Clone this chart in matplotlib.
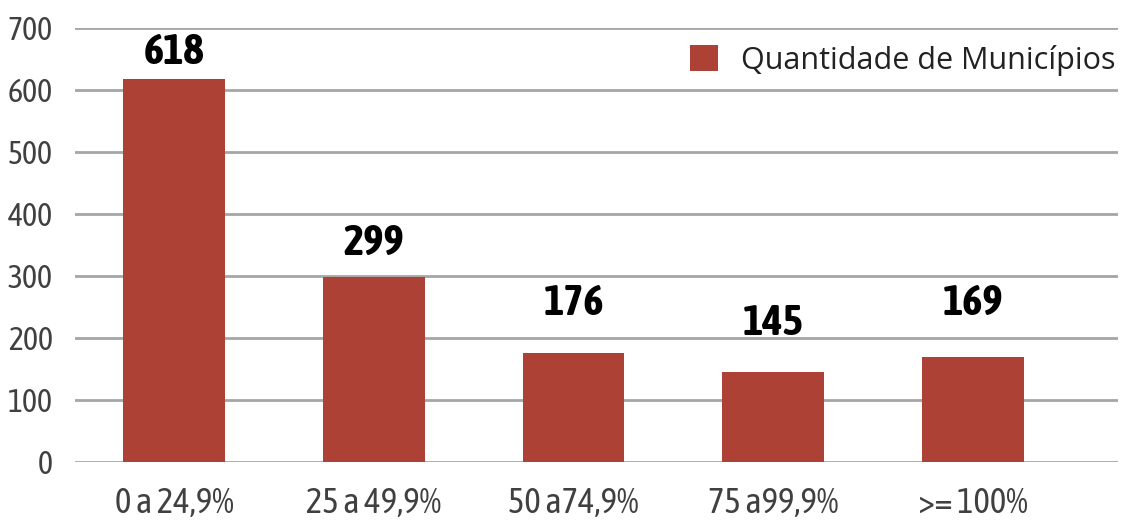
import matplotlib
matplotlib.use("Agg")
import matplotlib.pyplot as plt
import matplotlib.patheffects as pe
from matplotlib.font_manager import fontManager

categories = ["0 a 24,9%", "25 a 49,9%", "50 a74,9%", "75 a99,9%", ">= 100%"]
municipios = [618, 299, 176, 145, 169]
# where the value labels sit (same units as the y axis)
label_y = [661, 353, 256, 224, 256]
yticks = [0, 100, 200, 300, 400, 500, 600, 700]

# pick a condensed face if there is one, prefer one that also has a bold weight
narrow_fonts = {}
for f in fontManager.ttflist:
    if "Narrow" in f.name or "Condensed" in f.name:
        w = f.weight if isinstance(f.weight, int) else (700 if "bold" in str(f.weight) else 400)
        narrow_fonts.setdefault(f.name, set()).add(w)
narrow = "Roboto"
has_bold = True
if narrow_fonts:
    bold_ok = [n for n, ws in narrow_fonts.items() if max(ws) >= 600]
    narrow = bold_ok[0] if bold_ok else sorted(narrow_fonts)[0]
    has_bold = bool(bold_ok)

bar_color = "#ad4135"
grid_color = "#a6a6a6"
text_color = "#404040"

fig = plt.figure(figsize=(11.21, 5.22), dpi=100)
ax = fig.add_axes([75 / 1121, 60 / 522, 1043 / 1121, 434 / 522])

x = list(range(len(categories)))
ax.bar(x, municipios, width=0.51, color=bar_color, zorder=3,
       label="Quantidade de Municípios")

for xi, v, ly in zip(x, municipios, label_y):
    t = ax.text(xi, ly, str(v), ha="center", va="center", fontsize=31,
                fontweight=700, family=narrow, color="black")
    if not has_bold:
        t.set_path_effects([pe.withStroke(linewidth=1.6, foreground="black")])

ax.set_xlim(-0.495, 4.725)
ax.set_ylim(0, 700)
ax.set_yticks(yticks)
ax.set_xticks(x)
ax.set_xticklabels(categories)
ax.yaxis.grid(True, color=grid_color, linewidth=2, zorder=0)
ax.tick_params(length=0)
ax.tick_params(axis="y", pad=16)
ax.tick_params(axis="x", pad=17)
for lab in ax.get_yticklabels():
    lab.set_family(narrow)
    lab.set_fontsize(23)
    lab.set_color(text_color)
for lab in ax.get_xticklabels():
    lab.set_family(narrow)
    lab.set_fontsize(25)
    lab.set_color(text_color)
for s in ax.spines.values():
    s.set_visible(False)

leg = ax.legend(loc="upper right", frameon=False,
                prop={"family": "Open Sans", "size": 22},
                handlelength=0.9, handleheight=0.9, handletextpad=0.75,
                bbox_to_anchor=(1.009, 0.99), borderaxespad=0.0)
for t in leg.get_texts():
    t.set_color("#222222")

fig.savefig("out.png", dpi=100)
